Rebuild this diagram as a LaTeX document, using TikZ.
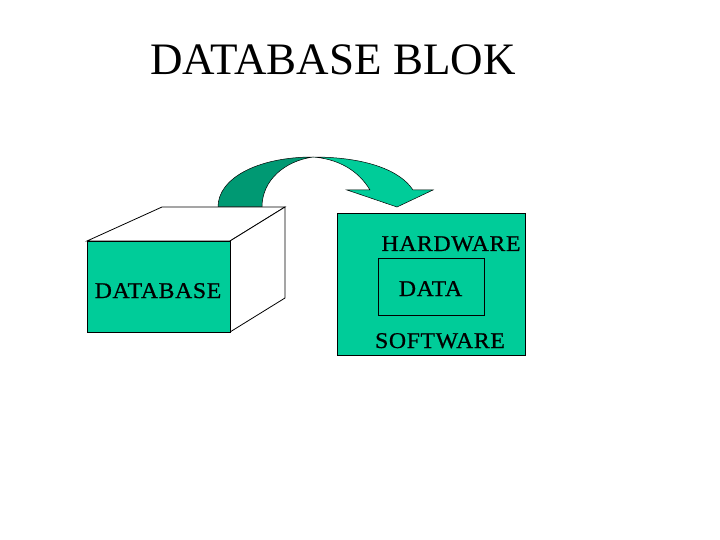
\documentclass[tikz,border=0pt]{standalone}
\usepackage{fontspec}
\setmainfont{Liberation Serif}
\newfontfamily\lblfont[LetterSpace=2.5,FakeStretch=1.06,FakeBold=0.6]{Liberation Serif}
\definecolor{teal1}{HTML}{00CC99}
\definecolor{teal2}{HTML}{009973}
\begin{document}
\begin{tikzpicture}[x=1pt,y=-1pt,
  face/.style={draw=black,line width=0.8pt,line join=miter},
  lbl/.style={font=\lblfont\fontsize{22.5}{26}\selectfont,inner sep=0pt,anchor=base}]
\useasboundingbox (0,0) rectangle (720,540);
% title
\node[font=\fontsize{45}{50}\selectfont,inner sep=0pt,anchor=base] (title) at (333,75) {DATABASE BLOK};
% arrow
\fill[teal2,draw=black,line width=0.5pt] (218,207) .. controls (218,178) and (258,157) .. (313,157)
  .. controls (285,161) and (262,180) .. (262,207) -- cycle;
\fill[teal1,draw=black,line width=0.5pt] (313,157) .. controls (365,157) and (400,170) .. (413,190)
  -- (433,190) -- (397,207) -- (347,190) -- (370,190)
  .. controls (358,170) and (338,159) .. (313,157) -- cycle;
% cube
\coordinate (ftl) at (87,241); \coordinate (ftr) at (230,241);
\coordinate (fbl) at (87,332); \coordinate (fbr) at (230,332);
\coordinate (btl) at (162,207); \coordinate (btr) at (285,207);
\coordinate (bbr) at (285,298);
\filldraw[face,fill=white] (ftl) -- (btl) -- (btr) -- (ftr) -- cycle;
\filldraw[face,fill=white] (ftr) -- (btr) -- (bbr) -- (fbr) -- cycle;
\filldraw[face,fill=teal1] (ftl) rectangle (fbr);
\node[lbl] (db) at (158,298) {DATABASE};
% right box
\filldraw[face,fill=teal1] (337,213) rectangle (525,355);
\draw[line width=0.8pt] (378,258) rectangle (484,315);
\node[lbl] (hw) at (451,251) {HARDWARE};
\node[lbl] (data) at (430.5,296) {DATA};
\node[lbl] (sw) at (440,348) {SOFTWARE};
\end{tikzpicture}
\end{document}
